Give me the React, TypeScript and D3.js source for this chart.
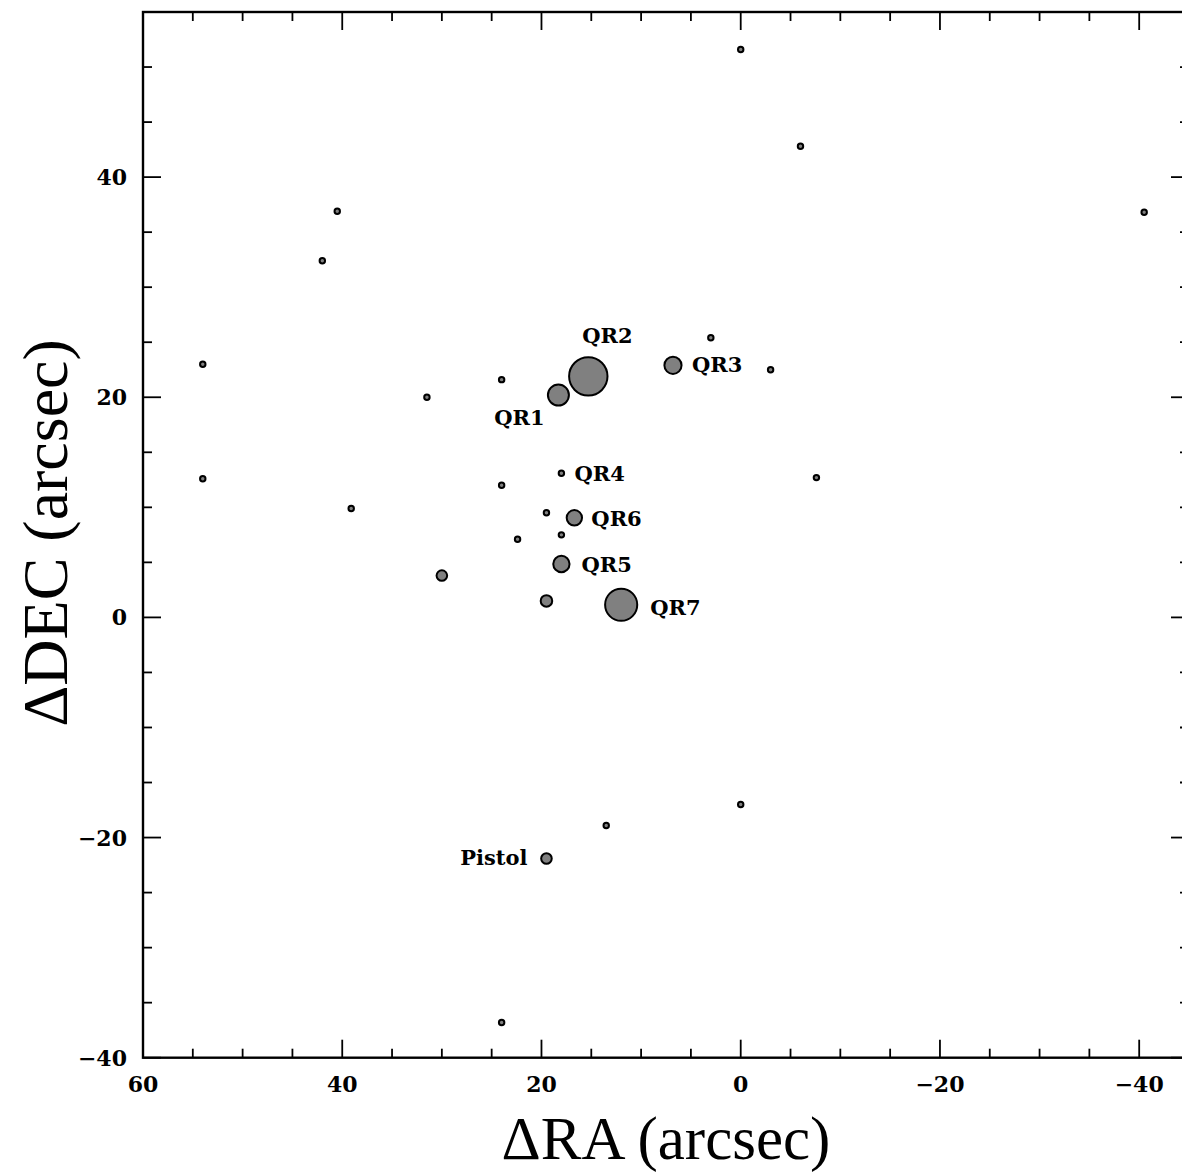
import React, { useRef, useEffect } from 'react';
import * as d3 from 'd3';

// Offsets from the reference position, arcsec
const raOffsets = [
  0.0, -6.0, -40.5, 40.5, 42.0, 54.0, 54.0, 31.5, 24.0, 18.3,
  15.3, 6.8, 3.0, -3.0, -7.6, 18.0, 24.0, 39.1, 19.5, 16.7,
  18.0, 22.4, 18.0, 30.0, 19.5, 12.0, 0.0, 13.5, 19.5, 24.0,
];
const decOffsets = [
  51.6, 42.8, 36.8, 36.9, 32.4, 23.0, 12.6, 20.0, 21.6, 20.2,
  21.9, 22.9, 25.4, 22.5, 12.7, 13.1, 12.0, 9.9, 9.5, 9.05,
  7.5, 7.1, 4.85, 3.8, 1.5, 1.15, -17.0, -18.9, -21.9, -36.8,
];
// relative brightness -> marker area
const fluxes = [
  2, 2, 2, 2, 2, 2, 2, 2, 2, 30,
  100, 20, 2, 2, 2, 2, 2, 2, 2, 16,
  2, 2, 18, 7.6, 9, 70, 2, 2, 7.6, 2,
];
const names = [
  '', '', '', '', '', '', '', '', '', 'QR1',
  'QR2', 'QR3', '', '', '', 'QR4', '', '', '', 'QR6',
  '', '', 'QR5', '', '', 'QR7', '', '', 'Pistol', '',
];

const xMajorTicks = [60, 40, 20, 0, -20, -40];
const yMajorTicks = [-40, -20, 0, 20, 40];

// where each name sits next to its marker (px)
const labelPlacement = {
  QR1: { dx: -39, dy: 30, anchor: 'middle' },
  QR2: { dx: -6, dy: -33, anchor: 'start' },
  QR3: { dx: 19, dy: 7, anchor: 'start' },
  QR4: { dx: 13, dy: 7.5, anchor: 'start' },
  QR6: { dx: 17, dy: 8, anchor: 'start' },
  QR5: { dx: 20, dy: 7.5, anchor: 'start' },
  QR7: { dx: 29, dy: 10, anchor: 'start' },
  Pistol: { dx: -19, dy: 7, anchor: 'end' },
};

const fmt = (v) => (v < 0 ? '\u2212' + Math.abs(v) : String(v));

const FieldMap = () => {
  const svgRef = useRef(null);

  useEffect(() => {
    const width = 1182;
    const height = 1175;
    const left = 143;
    const right = 1189;
    const top = 12;
    const bottom = 1057.7;
    const font = 'DejaVu Serif';
    const titleFont = 'Liberation Serif';

    const svg = d3.select(svgRef.current);
    svg.selectAll('*').remove();
    svg.attr('width', width).attr('height', height);

    const x = d3.scaleLinear().domain([60, -45]).range([left, right]);
    const y = d3.scaleLinear().domain([-40, 55]).range([bottom, top]);
    const r = d3.scaleSqrt().domain([0, 100]).range([0, 19.2]);

    const xMinor = d3.range(-45, 61, 5).filter((v) => !xMajorTicks.includes(v));
    const yMinor = d3.range(-40, 56, 5).filter((v) => !yMajorTicks.includes(v));

    const ticks = svg.append('g').attr('stroke', '#000').attr('stroke-width', 1.8);

    // bottom and top ticks (pointing inward)
    [[xMajorTicks, 18], [xMinor, 9]].forEach(([vals, len]) => {
      vals.forEach((v) => {
        ticks.append('line').attr('x1', x(v)).attr('x2', x(v)).attr('y1', bottom).attr('y2', bottom - len);
        ticks.append('line').attr('x1', x(v)).attr('x2', x(v)).attr('y1', top).attr('y2', top + len);
      });
    });
    // left and right ticks
    [[yMajorTicks, 18], [yMinor, 9]].forEach(([vals, len]) => {
      vals.forEach((v) => {
        ticks.append('line').attr('x1', left).attr('x2', left + len).attr('y1', y(v)).attr('y2', y(v));
        ticks.append('line').attr('x1', right).attr('x2', right - len).attr('y1', y(v)).attr('y2', y(v));
      });
    });

    // frame
    svg
      .append('rect')
      .attr('x', left)
      .attr('y', top)
      .attr('width', right - left)
      .attr('height', bottom - top)
      .attr('fill', 'none')
      .attr('stroke', '#000')
      .attr('stroke-width', 2.4);

    // tick labels
    svg
      .append('g')
      .selectAll('text')
      .data(xMajorTicks)
      .join('text')
      .attr('x', (d) => x(d))
      .attr('y', bottom + 34)
      .attr('text-anchor', 'middle')
      .attr('font-family', font)
      .attr('font-weight', 'bold')
      .attr('font-size', 22)
      .text(fmt);

    svg
      .append('g')
      .selectAll('text')
      .data(yMajorTicks)
      .join('text')
      .attr('x', left - 16)
      .attr('y', (d) => y(d) + 8)
      .attr('text-anchor', 'end')
      .attr('font-family', font)
      .attr('font-weight', 'bold')
      .attr('font-size', 22)
      .text(fmt);

    // axis titles
    svg
      .append('text')
      .attr('x', 666)
      .attr('y', 1159)
      .attr('text-anchor', 'middle')
      .attr('font-family', titleFont)
      .attr('font-size', 61)
      .text('\u0394RA (arcsec)');

    svg
      .append('text')
      .attr('transform', 'translate(67,533) rotate(-90)')
      .attr('text-anchor', 'middle')
      .attr('font-family', titleFont)
      .attr('font-size', 64)
      .text('\u0394DEC (arcsec)');

    // sources
    const data = raOffsets.map((ra, i) => ({ ra, dec: decOffsets[i], flux: fluxes[i], name: names[i] }));

    svg
      .append('g')
      .selectAll('circle')
      .data(data)
      .join('circle')
      .attr('cx', (d) => x(d.ra))
      .attr('cy', (d) => y(d.dec))
      .attr('r', (d) => r(d.flux))
      .attr('fill', '#808080')
      .attr('stroke', '#000')
      .attr('stroke-width', 2);

    svg
      .append('g')
      .selectAll('text')
      .data(data.filter((d) => d.name))
      .join('text')
      .attr('x', (d) => x(d.ra) + labelPlacement[d.name].dx)
      .attr('y', (d) => y(d.dec) + labelPlacement[d.name].dy)
      .attr('text-anchor', (d) => labelPlacement[d.name].anchor)
      .attr('font-family', font)
      .attr('font-weight', 'bold')
      .attr('font-size', 21)
      .text((d) => d.name);
  }, []);

  return <svg ref={svgRef} style={{ position: 'absolute', left: 0, top: 0 }}></svg>;
};

export default function App() {
  return <FieldMap />;
}
